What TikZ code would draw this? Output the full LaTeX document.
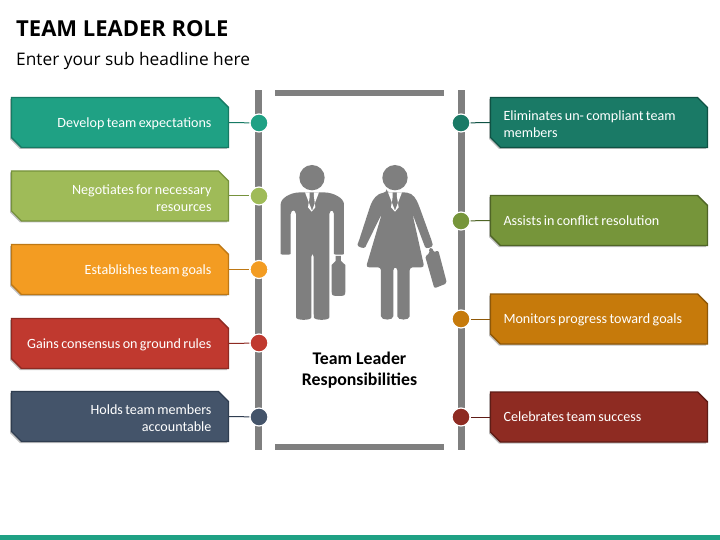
\documentclass[tikz,border=0pt]{standalone}
\usepackage{fontspec}
\setmainfont{Carlito}
\newfontfamily\headfont{Open Sans}
\usetikzlibrary{shapes.misc,shadows}
\definecolor{gfig}{HTML}{7F7F7F}
\tikzset{
  x=1pt,y=-1pt,
  bar/.style={fill=gfig,draw=none},
  dot/.style={circle,draw=white,line width=1.2pt,minimum size=18pt,inner sep=0pt},
  tagbox/.style={chamfered rectangle,chamfered rectangle corners={north east,south west},
    chamfered rectangle xsep=5pt,chamfered rectangle ysep=5pt,
    minimum width=217pt,minimum height=50pt,inner sep=0pt,line width=1.3pt,
    text=white,font=\fontsize{14.1}{17}\selectfont,
    execute at begin node={\spaceskip=2.4pt\relax},
    execute at end node={\vspace*{-3.5pt}},
    general shadow={shadow xshift=-1.5pt,shadow yshift=-1.5pt,fill=black,opacity=.25}},
  leftbox/.style={tagbox,align=right,text width=183pt},
  rightbox/.style={tagbox,align=left,text width=191pt},
  link/.style={line width=1pt},
}
\begin{document}
\begin{tikzpicture}
\useasboundingbox (0,0) rectangle (720,540);
\fill[white] (0,0) rectangle (720,540);
\fill[fill={rgb,255:red,31;green,161;blue,132}] (0,534.5) rectangle (720,540);
\node[anchor=base west,inner sep=0pt,font=\headfont\bfseries\fontsize{22}{26}\selectfont] (title) at (16,37) {TEAM LEADER ROLE};
\node[anchor=base west,inner sep=0pt,font=\headfont\fontsize{17.3}{20}\selectfont] (sub) at (16,65.5) {Enter your sub headline here};
% frame bars
\fill[bar] (255,90) rectangle (262,450);
\fill[bar] (458,90) rectangle (465,450);
\fill[bar] (275,90) rectangle (444,96);
\fill[bar] (275,444) rectangle (444,450);
% figures
\begin{scope}[shift={(270pt,-150pt)},x=0.3333pt,y=-0.3333pt]
 % man
 \fill[gfig] (126,83) circle (38);
 \fill[gfig,rounded corners=4pt] (32,300) -- (32,175) .. controls (32,145) and (60,128) .. (100,127) -- (152,127) .. controls (192,128) and (222,145) .. (222,175) -- (222,300)
   .. controls (222,315) and (192,315) .. (192,300) -- (192,180) -- (178,180) -- (178,490)
   .. controls (178,512) and (132,512) .. (131,490) -- (131,308) -- (124,308) -- (124,490)
   .. controls (124,512) and (78,512) .. (78,490) -- (78,180) -- (62,180) -- (62,300)
   .. controls (62,315) and (32,315) .. (32,300) -- cycle;
 \fill[white] (105,127) -- (119,127) -- (119,141) -- (114,172) -- (125,185) -- (136,172) -- (132,141) -- (132,127) -- (147,127) -- (126,182) -- cycle;
 \fill[gfig] (185,345) -- (197,333) -- (197,318) -- (213,318) -- (213,333) -- (226,345) -- (226,425) .. controls (226,436) and (222,438) .. (215,438) -- (196,438) .. controls (189,438) and (185,436) .. (185,425) -- cycle;
 % woman
 \fill[gfig] (375,83) circle (38);
 \fill[gfig,rounded corners=3pt] (350,127) -- (402,127) .. controls (430,130) and (440,150) .. (448,170) -- (486,275)
   .. controls (490,292) and (468,298) .. (462,283) -- (427,190) -- (463,352) -- (419,352) -- (419,490)
   .. controls (419,512) and (382,512) .. (382,490) -- (382,352) -- (370,352) -- (370,490)
   .. controls (370,512) and (333,512) .. (333,490) -- (333,352) -- (288,352) -- (336,190) -- (290,283)
   .. controls (283,298) and (260,290) .. (266,275) -- (300,170) .. controls (308,150) and (320,130) .. (350,127) -- cycle;
 \fill[white] (354,127) -- (368,127) -- (368,141) -- (363,172) -- (375,185) -- (386,172) -- (381,141) -- (381,127) -- (396,127) -- (375,182) -- cycle;
 \fill[gfig,rounded corners=2pt] (465,317) -- (480,311) -- (476,296) -- (487,293) -- (491,307) -- (505,301) -- (531,400) -- (493,415) -- cycle;
\end{scope}
\node[align=center,inner sep=0pt,font=\bfseries\fontsize{17.8}{21}\selectfont] (cap) at (359.5,370) {Team Leader\\Responsibilities};
% left column
\node[leftbox,fill={rgb,255:red,31;green,161;blue,132},draw={rgb,255:red,22;green,122;blue,100}] (l1) at (120,122.5) {Develop team expectations};
\node[leftbox,fill={rgb,255:red,159;green,187;blue,88},draw={rgb,255:red,118;green,146;blue,60}] (l2) at (120,196) {Negotiates for necessary\\resources};
\node[leftbox,fill={rgb,255:red,243;green,156;blue,34},draw={rgb,255:red,190;green,120;blue,20}] (l3) at (120,269.5) {Establishes team goals};
\node[leftbox,fill={rgb,255:red,192;green,57;blue,47},draw={rgb,255:red,142;green,42;blue,34}] (l4) at (120,343.5) {\makebox[183pt][r]{Gains consensus on ground rules}};
\node[leftbox,fill={rgb,255:red,68;green,84;blue,106},draw={rgb,255:red,47;green,61;blue,80}] (l5) at (120,416.5) {Holds team members\\accountable};
\node[dot,fill={rgb,255:red,31;green,161;blue,132}] (a1) at (259,123) {};
\node[dot,fill={rgb,255:red,159;green,187;blue,88}] (a2) at (259,196) {};
\node[dot,fill={rgb,255:red,243;green,156;blue,34}] (a3) at (259,269.5) {};
\node[dot,fill={rgb,255:red,192;green,57;blue,47}] (a4) at (259,343) {};
\node[dot,fill={rgb,255:red,68;green,84;blue,106}] (a5) at (259,417) {};
\draw[link,draw={rgb,255:red,22;green,122;blue,100}] (l1.east) -- (a1);
\draw[link,draw={rgb,255:red,118;green,146;blue,60}] (l2.east) -- (a2);
\draw[link,draw={rgb,255:red,190;green,120;blue,20}] (l3.east) -- (a3);
\draw[link,draw={rgb,255:red,142;green,42;blue,34}] (l4.east) -- (a4);
\draw[link,draw={rgb,255:red,47;green,61;blue,80}] (l5.east) -- (a5);
% right column
\node[rightbox,fill={rgb,255:red,26;green,122;blue,102},draw={rgb,255:red,15;green,82;blue,68}] (r1) at (599,122.5) {Eliminates un- compliant team\\members};
\node[rightbox,fill={rgb,255:red,118;green,149;blue,58},draw={rgb,255:red,79;green,101;blue,38}] (r2) at (599,220.5) {Assists in conflict resolution};
\node[rightbox,fill={rgb,255:red,198;green,122;blue,11},draw={rgb,255:red,143;green,88;blue,8}] (r3) at (599,319) {Monitors progress toward goals};
\node[rightbox,fill={rgb,255:red,142;green,43;blue,34},draw={rgb,255:red,95;green,28;blue,22}] (r4) at (599,417) {Celebrates team success};
\node[dot,fill={rgb,255:red,26;green,122;blue,102}] (b1) at (461,123) {};
\node[dot,fill={rgb,255:red,118;green,149;blue,58}] (b2) at (461,221) {};
\node[dot,fill={rgb,255:red,198;green,122;blue,11}] (b3) at (461,319) {};
\node[dot,fill={rgb,255:red,142;green,43;blue,34}] (b4) at (461,417) {};
\draw[link,draw={rgb,255:red,15;green,82;blue,68}] (r1.west) -- (b1);
\draw[link,draw={rgb,255:red,79;green,101;blue,38}] (r2.west) -- (b2);
\draw[link,draw={rgb,255:red,143;green,88;blue,8}] (r3.west) -- (b3);
\draw[link,draw={rgb,255:red,95;green,28;blue,22}] (r4.west) -- (b4);
\end{tikzpicture}
\end{document}
